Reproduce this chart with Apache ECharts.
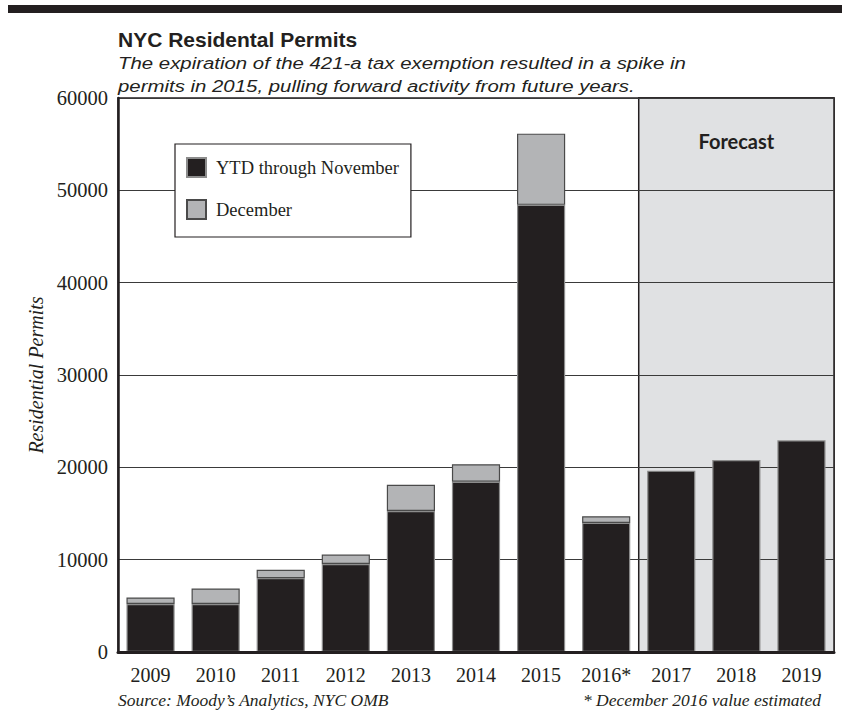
<!DOCTYPE html>
<html>
<head>
<meta charset="utf-8">
<script src="https://cdn.jsdelivr.net/npm/echarts@6/dist/echarts.min.js"></script>
<style>html,body{margin:0;padding:0;background:#fff}#c{width:842px;height:721px}</style>
</head>
<body>
<div id="c"></div>
<script>
const categories = ['2009','2010','2011','2012','2013','2014','2015','2016*','2017','2018','2019'];
const ytdValues = [5200, 5200, 8000, 9530, 15270, 18440, 48430, 13980, 19640, 20800, 22930];
const decValues = [700, 1680, 900, 1020, 2840, 1900, 7710, 720, null, null, null];
const yTicks = [0, 10000, 20000, 30000, 40000, 50000, 60000];
const forecastStart = 8;

const titleText = 'NYC Residental Permits';
const subtitleText = 'The expiration of the 421-a tax exemption resulted in a spike in\npermits in 2015, pulling forward activity from future years.';
const sourceText = 'Source: Moody\u2019s Analytics, NYC OMB';
const noteText = '* December 2016 value estimated';

const serif = '"Liberation Serif", "Times New Roman", serif';
const sans = '"Liberation Sans", Arial, sans-serif';
const ink = '#231f20';

const chart = echarts.init(document.getElementById('c'), null, {renderer: 'svg'});
chart.setOption({
  animation: false,
  backgroundColor: '#fff',
  graphic: [
    {type: 'rect', left: 8, top: 5, shape: {width: 834, height: 8}, style: {fill: ink}},
    {type: 'text', x: 118, y: 40, scaleX: 1.05,
     style: {text: titleText, font: 'bold 20px "Liberation Sans", Arial, sans-serif', fill: ink, verticalAlign: 'middle'}},
    {type: 'text', x: 118, y: 51.5, scaleX: 1.2,
     style: {text: subtitleText, font: 'italic 17px "Liberation Sans", Arial, sans-serif', lineHeight: 23, fill: ink, verticalAlign: 'top'}}
  ],
  title: [
    {text: sourceText, left: 118, top: 691, padding: 0,
     textStyle: {fontFamily: serif, fontStyle: 'italic', fontWeight: 'normal', fontSize: 17.5, color: ink}},
    {text: noteText, right: 21, top: 691, padding: 0,
     textStyle: {fontFamily: serif, fontStyle: 'italic', fontWeight: 'normal', fontSize: 17.5, color: ink}}
  ],
  legend: {
    left: 175, top: 144, orient: 'vertical',
    data: ['YTD through November', 'December'],
    itemWidth: 19, itemHeight: 19, itemGap: 21,
    padding: [13, 12, 17, 11],
    backgroundColor: '#fff', borderColor: ink, borderWidth: 1.2,
    textStyle: {fontFamily: serif, fontSize: 18.5, color: ink, padding: [0, 0, 0, 5]},
    icon: 'rect', z: 10
  },
  grid: {left: 118, right: 8, top: 98, bottom: 69, show: true, borderColor: ink, borderWidth: 1.5, backgroundColor: 'transparent'},
  xAxis: [{
    type: 'category', data: categories, z: 4,
    axisLine: {show: true, lineStyle: {color: ink, width: 3}},
    axisTick: {show: false},
    axisLabel: {fontFamily: serif, fontSize: 20, color: ink, margin: 13, interval: 0}
  }, {
    type: 'value', min: 0, max: categories.length, show: false
  }],
  yAxis: {
    type: 'value', min: 0, max: 60000, interval: 10000, z: 1.8,
    name: 'Residential Permits', nameLocation: 'middle', nameGap: 72,
    nameTextStyle: {fontFamily: serif, fontStyle: 'italic', fontSize: 20, color: ink},
    axisLine: {show: true, lineStyle: {color: ink, width: 2.5}},
    axisTick: {show: false},
    axisLabel: {fontFamily: serif, fontSize: 20.5, color: ink, margin: 10,
      customValues: yTicks, formatter: function (v) { return String(v); }},
    splitLine: {show: true, lineStyle: {color: '#3a3a3a', width: 1}}
  },
  series: [
    {
      name: 'forecastArea', type: 'line', xAxisIndex: 1, data: [], z: 0,
      markArea: {
        silent: true, z: 0,
        itemStyle: {color: '#e0e1e3', borderColor: ink, borderWidth: 1.5},
        label: {show: true, position: 'insideTop', distance: 34, formatter: 'Forecast',
          fontFamily: 'Lato, "Open Sans", sans-serif', fontWeight: 'bold', fontSize: 20, color: ink},
        data: [[{xAxis: forecastStart, yAxis: 0}, {xAxis: categories.length, yAxis: 60000}]]
      }
    },
    {
      name: 'YTD through November', type: 'bar', stack: 'p', data: ytdValues, z: 3,
      barWidth: '74%',
      itemStyle: {color: ink, borderColor: '#8c8c8c', borderWidth: 1.2}
    },
    {
      name: 'December', type: 'bar', stack: 'p', data: decValues, z: 3,
      barWidth: '74%',
      itemStyle: {color: '#b3b4b6', borderColor: '#4a4a4a', borderWidth: 1.2}
    }
  ]
});
</script>
</body>
</html>
